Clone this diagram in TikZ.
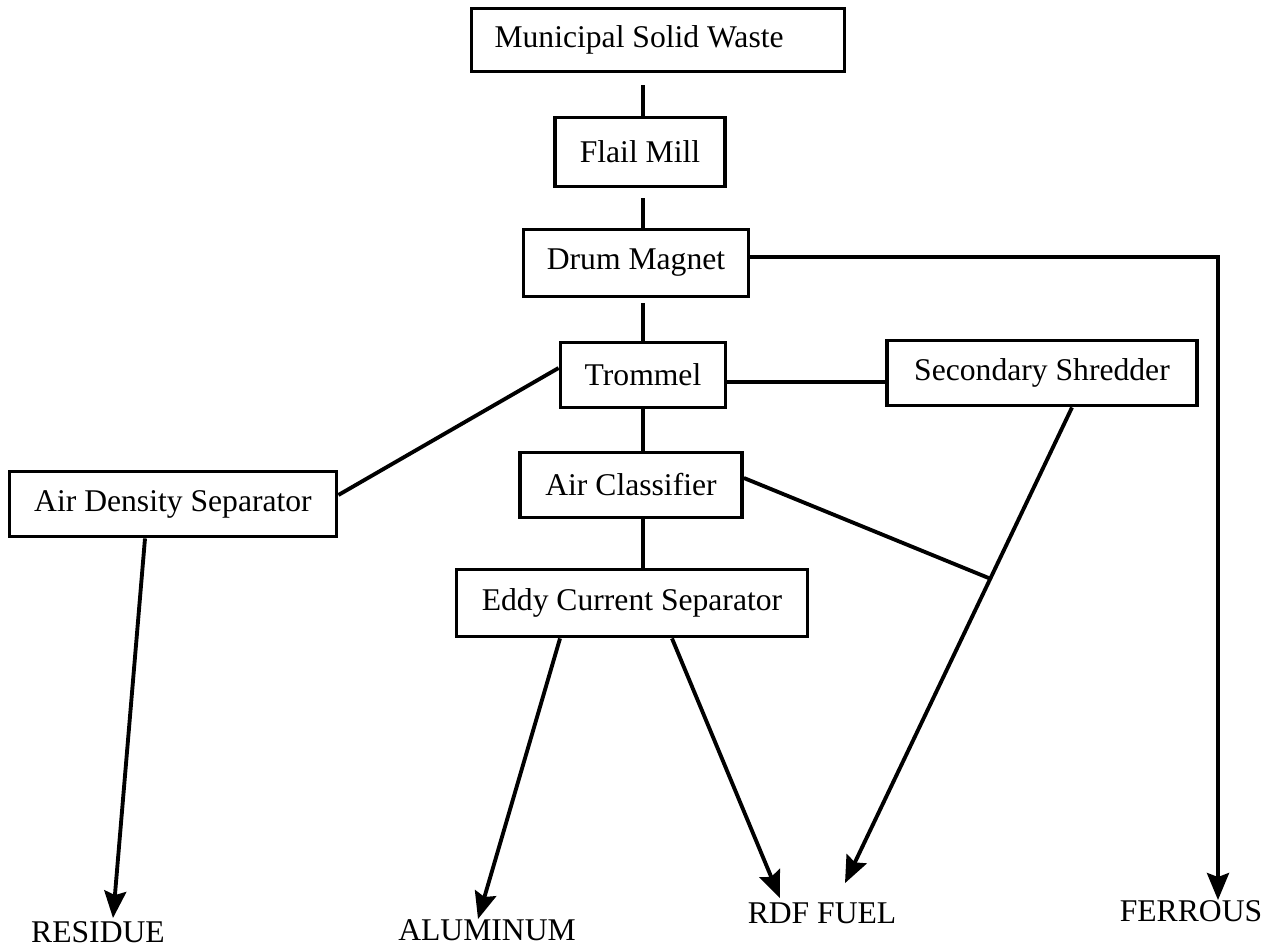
\documentclass[tikz,border=0pt]{standalone}
\usepackage{fontspec}
\setmainfont{Liberation Serif}
\usetikzlibrary{arrows.meta}

\begin{document}
\begin{tikzpicture}[x=0.02cm, y=-0.02cm,
      box/.style={draw, line width=2.2pt, minimum height=1.3cm, inner sep=0pt,
          font=\fontsize{18}{20}\selectfont},
      lbl/.style={inner sep=0pt, font=\fontsize{18}{20}\selectfont},
      ln/.style={line width=2.2pt},
      arr/.style={ln, -{Stealth[length=0.54cm, width=0.44cm, inset=0.08cm]}}
    ]
    \useasboundingbox (0,0) rectangle (1275,950);

    \node[box, text width=6.54cm, align=flush left, inner xsep=0.46cm, minimum height=1.26cm] (msw) at (658,40) {Municipal Solid Waste};
    \node[box, minimum width=3.4cm, minimum height=1.38cm] (flail) at (640,152) {Flail Mill};
    \node[box, minimum width=4.5cm, minimum height=1.34cm]  (drum)  at (636,263) {Drum Magnet};
    \node[box, minimum width=3.3cm]  (trom)  at (643,375) {Trommel};
    \node[box, minimum width=6.2cm]  (shred) at (1042,373) {Secondary Shredder};
    \node[box, minimum width=4.44cm] (aircl) at (631,485) {Air Classifier};
    \node[box, minimum width=6.54cm] (ads)   at (173,504) {Air Density Separator};
    \node[box, minimum width=7.02cm, minimum height=1.34cm] (eddy) at (632,603) {Eddy Current Separator};

    \node[lbl] (res) at (98,932)   {RESIDUE};
    \node[lbl] (alu) at (487,930)  {ALUMINUM};
    \node[lbl] (rdf) at (822,913)  {RDF FUEL};
    \node[lbl] (fer) at (1191,911) {FERROUS};

    \draw[ln, shorten <=0.24cm] (msw.south -| trom) -- (flail.north -| trom);
    \draw[ln, shorten <=0.2cm]  (flail.south -| trom) -- (drum.north -| trom);
    \draw[ln, shorten <=0.1cm]  (drum.south -| trom) -- (trom.north);
    \draw[arr] ([yshift=0.12cm]drum.east) -| ([xshift=0.54cm]fer.north);
    \draw[ln] ([yshift=-0.14cm]trom.east) -- ([yshift=-0.14cm]trom.east -| shred.west);
    \draw[ln] ([yshift=0.14cm]trom.west) -- ([yshift=0.18cm]ads.east);
    \draw[ln] (trom.south) -- (trom.south |- aircl.north);
    \draw[ln] (aircl.south -| trom) -- (eddy.north -| trom);
    \draw[arr] ([xshift=0.6cm]shred.south) -- coordinate[pos=0.36] (join) ([xshift=0.46cm, yshift=0.38cm]rdf.north);
    \draw[ln] ([yshift=0.14cm]aircl.east) -- (join);
    \draw[arr] ([xshift=-1.44cm]eddy.south) -- ([xshift=-0.18cm]alu.north);
    \draw[arr] ([xshift=0.8cm]eddy.south) -- ([xshift=-0.84cm, yshift=0.08cm]rdf.north);
    \draw[arr] ([xshift=-0.56cm]ads.south) -- ([xshift=0.3cm, yshift=0.06cm]res.north);
  \end{tikzpicture}
\end{document}
